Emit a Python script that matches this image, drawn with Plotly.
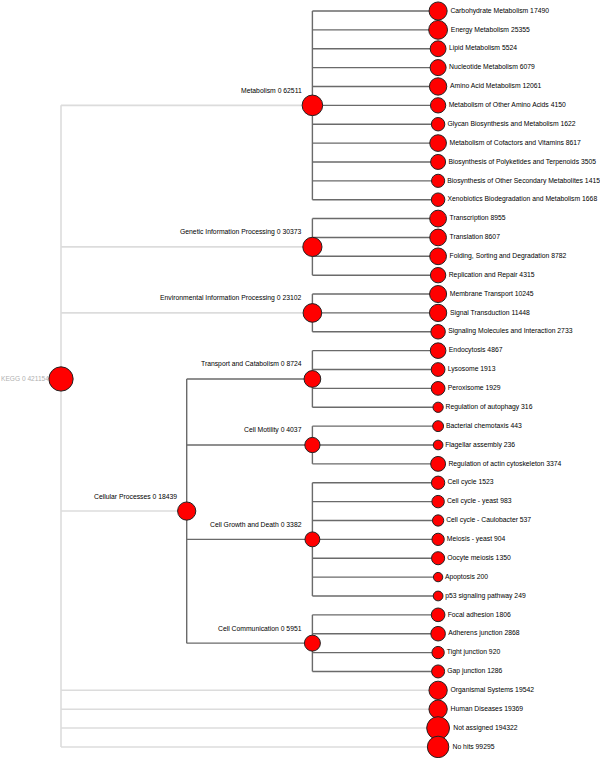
import math
import plotly.graph_objects as go

# ---- Data: KEGG classification tree (name, parent, assigned, summarized count) ----
node_names = [
    "KEGG",
    "Metabolism",
    "Carbohydrate Metabolism", "Energy Metabolism", "Lipid Metabolism",
    "Nucleotide Metabolism", "Amino Acid Metabolism", "Metabolism of Other Amino Acids",
    "Glycan Biosynthesis and Metabolism", "Metabolism of Cofactors and Vitamins",
    "Biosynthesis of Polyketides and Terpenoids", "Biosynthesis of Other Secondary Metabolites",
    "Xenobiotics Biodegradation and Metabolism",
    "Genetic Information Processing",
    "Transcription", "Translation", "Folding, Sorting and Degradation", "Replication and Repair",
    "Environmental Information Processing",
    "Membrane Transport", "Signal Transduction", "Signaling Molecules and Interaction",
    "Cellular Processes",
    "Transport and Catabolism",
    "Endocytosis", "Lysosome", "Peroxisome", "Regulation of autophagy",
    "Cell Motility",
    "Bacterial chemotaxis", "Flagellar assembly", "Regulation of actin cytoskeleton",
    "Cell Growth and Death",
    "Cell cycle", "Cell cycle - yeast", "Cell cycle - Caulobacter", "Meiosis - yeast",
    "Oocyte meiosis", "Apoptosis", "p53 signaling pathway",
    "Cell Communication",
    "Focal adhesion", "Adherens junction", "Tight junction", "Gap junction",
    "Organismal Systems", "Human Diseases", "Not assigned", "No hits",
]
node_parents = [
    None,
    "KEGG",
    "Metabolism", "Metabolism", "Metabolism", "Metabolism", "Metabolism", "Metabolism",
    "Metabolism", "Metabolism", "Metabolism", "Metabolism", "Metabolism",
    "KEGG",
    "Genetic Information Processing", "Genetic Information Processing",
    "Genetic Information Processing", "Genetic Information Processing",
    "KEGG",
    "Environmental Information Processing", "Environmental Information Processing",
    "Environmental Information Processing",
    "KEGG",
    "Cellular Processes",
    "Transport and Catabolism", "Transport and Catabolism", "Transport and Catabolism",
    "Transport and Catabolism",
    "Cellular Processes",
    "Cell Motility", "Cell Motility", "Cell Motility",
    "Cellular Processes",
    "Cell Growth and Death", "Cell Growth and Death", "Cell Growth and Death",
    "Cell Growth and Death", "Cell Growth and Death", "Cell Growth and Death",
    "Cell Growth and Death",
    "Cellular Processes",
    "Cell Communication", "Cell Communication", "Cell Communication", "Cell Communication",
    "KEGG", "KEGG", "KEGG", "KEGG",
]
node_assigned = [
    0,
    0,
    17490, 25355, 5524, 6079, 12061, 4150, 1622, 8617, 3505, 1415, 1668,
    0,
    8955, 8607, 8782, 4315,
    0,
    10245, 11448, 2733,
    0,
    0,
    4867, 1913, 1929, 316,
    0,
    443, 236, 3374,
    0,
    1523, 983, 537, 904, 1350, 200, 249,
    0,
    1806, 2868, 920, 1286,
    19542, 19369, 194322, 99295,
]
node_summarized = [
    421154,
    62511,
    17490, 25355, 5524, 6079, 12061, 4150, 1622, 8617, 3505, 1415, 1668,
    30373,
    8955, 8607, 8782, 4315,
    23102,
    10245, 11448, 2733,
    18439,
    8724,
    4867, 1913, 1929, 316,
    4037,
    443, 236, 3374,
    3382,
    1523, 983, 537, 904, 1350, 200, 249,
    5951,
    1806, 2868, 920, 1286,
    19542, 19369, 194322, 99295,
]

# ---- Tree layout (leaves right-aligned, internal nodes centred on their leaf span) ----
children = {n: [] for n in node_names}
for n, p in zip(node_names, node_parents):
    if p is not None:
        children[p].append(n)

pos_y, height, span = {}, {}, {}
leaf_counter = [0]


def layout(n):
    if not children[n]:
        pos_y[n] = leaf_counter[0]
        leaf_counter[0] += 1
        height[n] = 0
        span[n] = (pos_y[n], pos_y[n])
        return
    for c in children[n]:
        layout(c)
    first = span[children[n][0]][0]
    last = span[children[n][-1]][1]
    span[n] = (first, last)
    pos_y[n] = (first + last) / 2.0
    height[n] = 1 + max(height[c] for c in children[n])


layout("KEGG")
max_h = height["KEGG"]
pos_x = {n: max_h - height[n] for n in node_names}

# ---- Edges ----
ex_root, ey_root, ex_in, ey_in = [], [], [], []
for n in node_names:
    ch = children[n]
    if not ch:
        continue
    xs, ys = (ex_root, ey_root) if n == "KEGG" else (ex_in, ey_in)
    xs += [pos_x[n], pos_x[n], None]
    ys += [pos_y[ch[0]], pos_y[ch[-1]], None]
    for c in ch:
        xs += [pos_x[n], pos_x[c], None]
        ys += [pos_y[c], pos_y[c], None]

fig = go.Figure()
fig.add_trace(go.Scatter(x=ex_root, y=ey_root, mode="lines",
                         line=dict(color="#dcdcdc", width=1.6),
                         hoverinfo="skip", showlegend=False))
fig.add_trace(go.Scatter(x=ex_in, y=ey_in, mode="lines",
                         line=dict(color="#6a6a6a", width=1.4),
                         hoverinfo="skip", showlegend=False))

# ---- Nodes ----
def diam(v):
    return 4.5 * math.log10(v) - 1.0


leaves = [n for n in node_names if not children[n]]
inner = [n for n in node_names if children[n]]
idx = {n: i for i, n in enumerate(node_names)}

FONT = "Liberation Sans, Arial, sans-serif"

fig.add_trace(go.Scatter(
    x=[pos_x[n] for n in inner], y=[pos_y[n] for n in inner], mode="markers",
    marker=dict(color="#ff0000", opacity=1,
                size=[diam(node_summarized[idx[n]]) for n in inner],
                line=dict(color="#222222", width=1)),
    hoverinfo="skip", showlegend=False))
fig.add_trace(go.Scatter(
    x=[pos_x[n] for n in leaves], y=[pos_y[n] for n in leaves], mode="markers+text",
    marker=dict(color="#ff0000", opacity=1,
                size=[diam(node_summarized[idx[n]]) for n in leaves],
                line=dict(color="#222222", width=1)),
    text=[f"{n} {node_summarized[idx[n]]}" for n in leaves],
    textposition="middle right",
    textfont=dict(family=FONT, size=6.8, color="#000000"),
    cliponaxis=False,
    hoverinfo="skip", showlegend=False))

annotations = []
for n in inner:
    label = f"{n} {node_assigned[idx[n]]} {node_summarized[idx[n]]}"
    if n == "KEGG":
        annotations.append(dict(x=pos_x[n], y=pos_y[n], text=label, showarrow=False,
                                xanchor="right", yanchor="middle",
                                xshift=-diam(node_summarized[idx[n]]) / 2 + 1.5,
                                borderpad=0,
                                font=dict(family=FONT, size=6.6, color="#b0b0b0")))
    else:
        annotations.append(dict(x=pos_x[n], y=pos_y[n], text=label, showarrow=False,
                                xanchor="right", yanchor="middle",
                                xshift=-8, yshift=15,
                                font=dict(family=FONT, size=6.8, color="#000000")))

PX_STEP = 125.7
X0 = -61.0 / PX_STEP
LEAF_STEP = 18.87
Y0 = -11.0 / LEAF_STEP

fig.update_layout(
    width=600, height=758,
    margin=dict(l=0, r=0, t=0, b=0),
    paper_bgcolor="white", plot_bgcolor="white",
    xaxis=dict(range=[X0, X0 + 600 / PX_STEP], visible=False, fixedrange=True),
    yaxis=dict(range=[Y0 + 758 / LEAF_STEP, Y0], visible=False, fixedrange=True),
    annotations=annotations,
)

fig.write_html(
    "out.html",
    config={"displayModeBar": False},
    post_script="document.body.style.margin='0';document.body.style.overflow='hidden';",
)
